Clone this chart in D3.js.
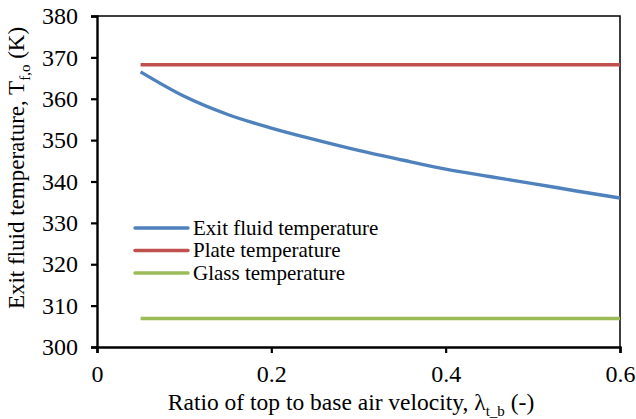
<!DOCTYPE html>
<html>
<head>
<meta charset="utf-8">
<script src="https://cdn.jsdelivr.net/npm/d3@7"></script>
<style>
  body { margin: 0; background: #fff; }
  svg text { font-family: "Liberation Serif", "Times New Roman", serif; fill: #000; }
</style>
</head>
<body>
<div id="chart"></div>
<script>
// data
var ratio = [0.05, 0.1, 0.15, 0.2, 0.25, 0.3, 0.35, 0.4, 0.45, 0.5, 0.55, 0.6];
var exitFluid = [366.5, 360.6, 356.2, 352.9, 350.1, 347.5, 345.2, 343.0, 341.2, 339.5, 337.7, 336.0];
var plateTemp = [368.2, 368.2, 368.2, 368.2, 368.2, 368.2, 368.2, 368.2, 368.2, 368.2, 368.2, 368.2];
var glassTemp = [306.9, 306.9, 306.9, 306.9, 306.9, 306.9, 306.9, 306.9, 306.9, 306.9, 306.9, 306.9];
var seriesNames = ["Exit fluid temperature", "Plate temperature", "Glass temperature"];
var xTicks = [0, 0.2, 0.4, 0.6];
var yTicks = [300, 310, 320, 330, 340, 350, 360, 370, 380];

var W = 636, H = 419;
var serif = '"Liberation Serif", "Times New Roman", serif';
var margin = { top: 16, right: 16, bottom: 72, left: 97 },
    width = 620 - margin.left,
    height = 347 - margin.top;

var svg = d3.select("#chart").append("svg")
    .attr("width", W)
    .attr("height", H);

var g = svg.append("g")
    .attr("transform", "translate(" + margin.left + "," + margin.top + ")");

var x = d3.scaleLinear().domain([0, 0.6]).range([0, width]);
var y = d3.scaleLinear().domain([300, 380]).range([height, 0]);

var color = d3.scaleOrdinal()
    .domain(seriesNames)
    .range(["#4F81BD", "#C0504D", "#9BBB59"]);

// frame (top and right)
g.append("path")
    .attr("d", "M0,0H" + width + "V" + height)
    .attr("fill", "none")
    .attr("stroke", "#000")
    .attr("stroke-width", 1.5);

// axes
var xAxis = g.append("g")
    .attr("transform", "translate(0," + height + ")")
    .call(d3.axisBottom(x).tickValues(xTicks).tickSize(6).tickPadding(12)
        .tickFormat(function (d) { return d === 0 ? "0" : d3.format(".1f")(d); }));
var yAxis = g.append("g")
    .call(d3.axisLeft(y).tickValues(yTicks).tickSize(6).tickPadding(13));

[xAxis, yAxis].forEach(function (a) {
    a.attr("font-family", serif).attr("font-size", 24);
    a.select(".domain").attr("stroke-width", 2.4);
    a.selectAll(".tick line").attr("stroke-width", 2.2);
    a.selectAll("text").style("font-family", serif).style("font-size", "24px");
});

// lines
var series = [
    { name: seriesNames[0], values: exitFluid },
    { name: seriesNames[1], values: plateTemp },
    { name: seriesNames[2], values: glassTemp }
];

var line = d3.line()
    .x(function (d, i) { return x(ratio[i]); })
    .y(function (d) { return y(d); })
    .curve(d3.curveMonotoneX);

g.selectAll(".series")
    .data(series)
    .enter()
    .append("path")
    .attr("class", "series")
    .attr("fill", "none")
    .attr("stroke", function (d) { return color(d.name); })
    .attr("stroke-width", 3.4)
    .attr("d", function (d) { return line(d.values); });

// legend
var legend = g.selectAll(".legend")
    .data(seriesNames)
    .enter()
    .append("g")
    .attr("class", "legend")
    .attr("transform", function (d, i) {
        return "translate(38," + (212 + i * 22.5) + ")";
    });

legend.append("line")
    .attr("x1", 0).attr("x2", 53)
    .attr("stroke", color)
    .attr("stroke-width", 3.4)
    .attr("stroke-linecap", "round");

legend.append("text")
    .attr("x", 58)
    .attr("dy", "0.33em")
    .style("font-family", serif)
    .style("font-size", "21px")
    .text(function (d) { return d; });

// x axis title
var xt = svg.append("text")
    .attr("x", 351)
    .attr("y", 410)
    .attr("text-anchor", "middle")
    .style("font-family", serif)
    .style("font-size", "23.5px");
xt.append("tspan").text("Ratio of top to base air velocity, \u03bb");
xt.append("tspan").attr("dy", 6).style("font-size", "15px").text("t_b");
xt.append("tspan").attr("dy", -6).text(" (-)");

// y axis title
var yt = svg.append("text")
    .attr("transform", "translate(24,168) rotate(-90)")
    .attr("text-anchor", "middle")
    .style("font-family", serif)
    .style("font-size", "23px");
yt.append("tspan").text("Exit fluid temperature, T");
yt.append("tspan").attr("dy", 6).style("font-size", "15px").text("f,o");
yt.append("tspan").attr("dy", -6).text(" (K)");
</script>
</body>
</html>
